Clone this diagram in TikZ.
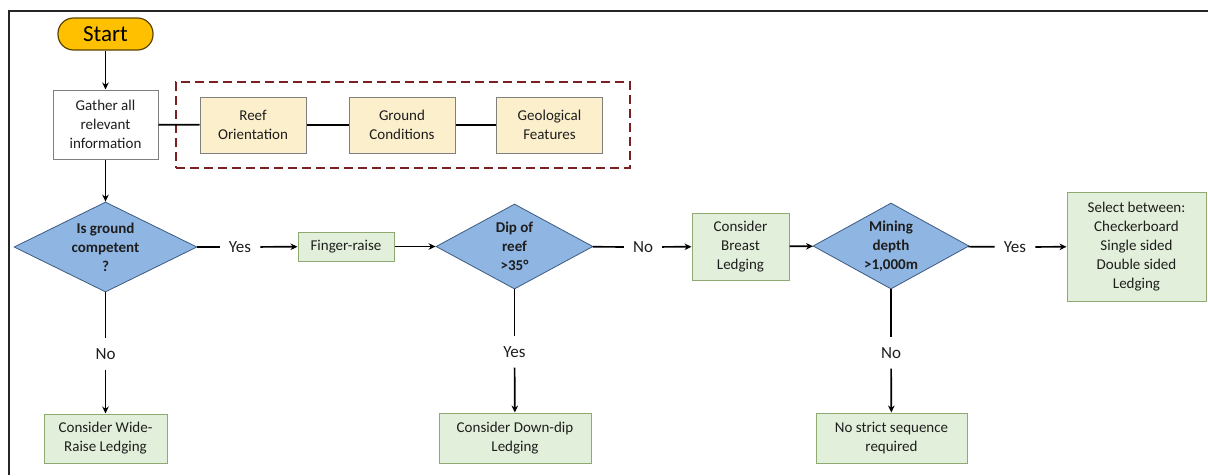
\documentclass[tikz,border=0pt]{standalone}
\usepackage{fontspec}
\setmainfont{Carlito}
\usetikzlibrary{shapes.geometric,arrows.meta}
\definecolor{startfill}{HTML}{FFC000}
\definecolor{startdraw}{HTML}{5A4300}
\definecolor{diafill}{HTML}{8FB5E3}
\definecolor{diadraw}{HTML}{3C5A80}
\definecolor{greenfill}{HTML}{E2EFDA}
\definecolor{greendraw}{HTML}{8EAA72}
\definecolor{yelfill}{HTML}{FCEFCB}
\definecolor{yeldraw}{HTML}{7F7F7F}
\definecolor{dashred}{HTML}{7A1F22}
\definecolor{txt}{HTML}{1E1E1E}
\begin{document}
\begin{tikzpicture}[x=1pt,y=-1pt,
  boxtext/.style={font=\fontsize{15}{19}\selectfont, text=txt, align=center, inner sep=2pt},
  startbox/.style={draw=startdraw, line width=1.2pt, fill=startfill, rounded corners=15.5pt,
     minimum width=95pt, minimum height=32pt, font=\fontsize{23}{26}\selectfont, text=black, inner sep=0pt},
  plainbox/.style={boxtext, draw=yeldraw, line width=1pt, fill=white},
  yelbox/.style={boxtext, draw=yeldraw, line width=1pt, fill=yelfill, minimum width=106pt, minimum height=56pt},
  greenbox/.style={boxtext, draw=greendraw, line width=1pt, fill=greenfill},
  decision/.style={diamond, draw=diadraw, line width=0.8pt, fill=diafill, inner sep=0pt, aspect=2,
     font=\fontsize{15}{19}\selectfont\bfseries, text=txt, align=center},
  lbl/.style={font=\fontsize{17}{20}\selectfont, text=txt, inner xsep=9pt, inner ysep=10pt},
  dashbox/.style={draw=dashred, line width=1.8pt, dash pattern=on 9pt off 5pt, minimum width=454pt, minimum height=86pt},
  arr/.style={-{Stealth[length=7pt,width=6.5pt]}, line width=1.7pt, black},
  ln/.style={line width=1.7pt, black},
  frame/.style={line width=1.5pt, black!85}
]
\useasboundingbox (0,0) rectangle (1208,475);
\draw[frame] (9,475) -- (9,11) -- (1208,11);

\node[dashbox] (group) at (403,125) {};
\node[startbox] (start) at (105.5,34) {Start};
\node[plainbox, minimum width=105pt, minimum height=69pt] (gather) at (105.5,124.5) {Gather all\\relevant\\information};
\node[yelbox] (reef) at (253,125) {Reef\\Orientation};
\node[yelbox] (ground) at (402,125) {Ground\\Conditions};
\node[yelbox] (geo) at (549.5,125) {Geological\\Features};

\node[decision, minimum width=183pt, minimum height=90pt] (d1) at (105.5,247) {Is ground\\competent\\?};
\node[lbl] (yes1) at (240,247) {Yes};
\node[greenbox, minimum width=96pt, minimum height=29pt] (finger) at (346,246.5) {Finger-raise};
\node[decision, minimum width=157pt, minimum height=85pt] (d2) at (514.5,246.5) {Dip of\\reef\\>35°};
\node[lbl] (no2) at (643,247) {No};
\node[greenbox, minimum width=97pt, minimum height=67pt] (breast) at (740.5,246.5) {Consider\\Breast\\Ledging};
\node[decision, minimum width=156pt, minimum height=86pt] (d3) at (891,246) {Mining\\depth\\>1,000m};
\node[lbl] (yes3) at (1015,247) {Yes};
\node[greenbox, minimum width=139pt, minimum height=109pt] (select) at (1136.5,246.5) {Select between:\\Checkerboard\\Single sided\\Double sided\\Ledging};

\node[lbl] (no1) at (105.5,354) {No};
\node[greenbox, minimum width=123pt, minimum height=49pt] (wide) at (105.5,438.5) {Consider Wide-\\Raise Ledging};
\node[lbl] (yes2) at (514.5,352) {Yes};
\node[greenbox, minimum width=152pt, minimum height=50pt] (down) at (515,438) {Consider Down-dip\\Ledging};
\node[lbl] (no3) at (891,353) {No};
\node[greenbox, minimum width=151pt, minimum height=50pt] (strict) at (891.5,438) {No strict sequence\\required};

\draw[arr] (start) -- (gather);
\draw[arr] (gather) -- (d1);
\draw[ln] (gather) -- (reef);
\draw[ln] (reef) -- (ground);
\draw[ln] (ground) -- (geo);

\draw[ln] (d1) -- (yes1);
\draw[arr] (yes1) -- (finger);
\draw[arr] (finger) -- (d2);
\draw[ln] (d2) -- (no2);
\draw[arr] (no2) -- (breast);
\draw[arr] (breast) -- (d3);
\draw[ln] (d3) -- (yes3);
\draw[arr] (yes3) -- (select);

\draw[ln] (d1) -- (no1);
\draw[arr] (no1) -- (wide);
\draw[ln] (d2) -- (yes2);
\draw[arr] (yes2) -- (down);
\draw[ln] (d3) -- (no3);
\draw[arr] (no3) -- (strict);
\end{tikzpicture}
\end{document}
